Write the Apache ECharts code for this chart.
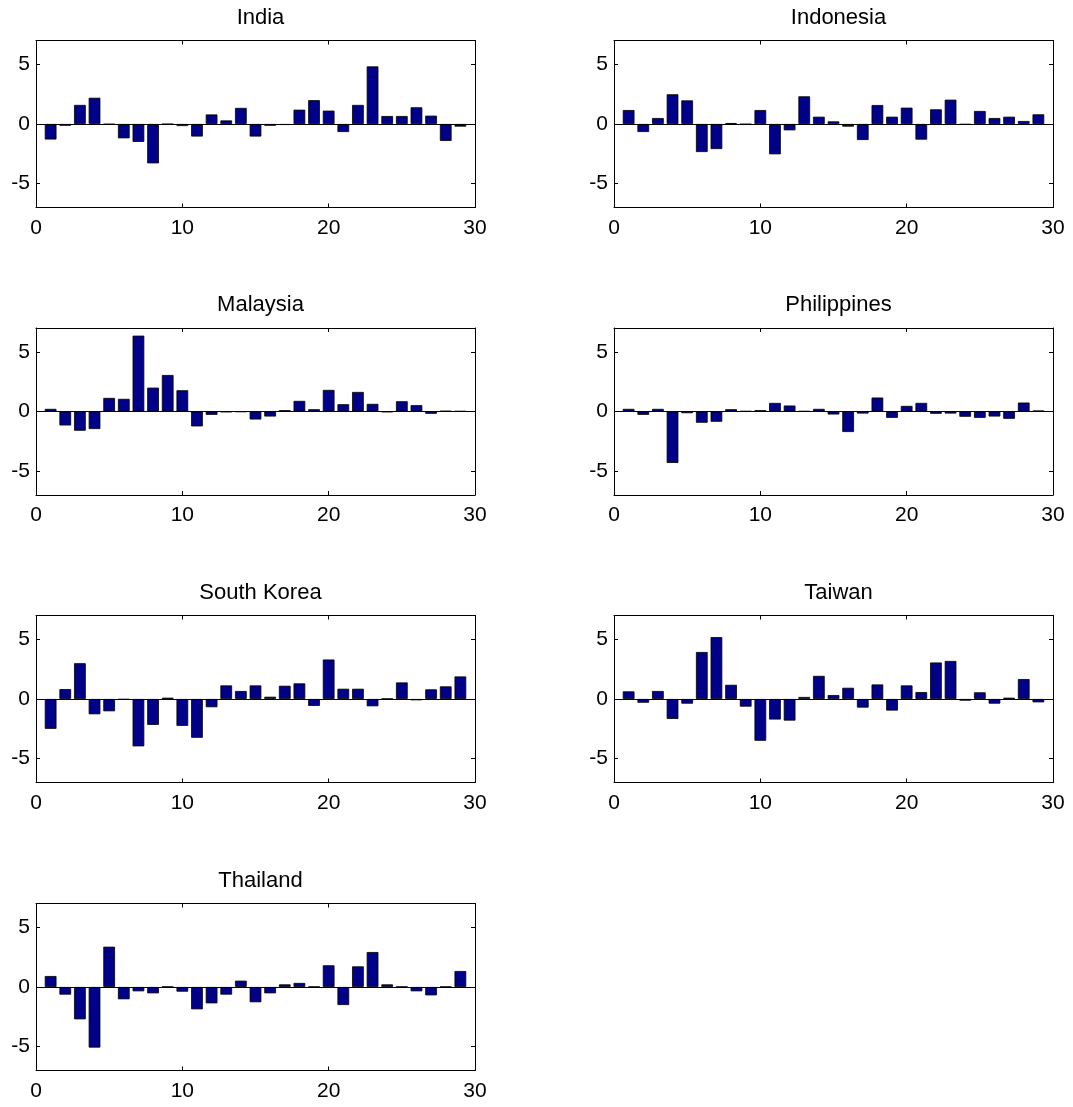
<!DOCTYPE html>
<html><head><meta charset="utf-8">
<script src="https://cdn.jsdelivr.net/npm/echarts@6/dist/echarts.min.js"></script>
<style>html,body{margin:0;padding:0;background:#fff}#c{width:1073px;height:1107px}</style>
</head><body><div id="c"></div>
<script>
const periods = [1,2,3,4,5,6,7,8,9,10,11,12,13,14,15,16,17,18,19,20,21,22,23,24,25,26,27,28,29];
const xTicks = [0,10,20,30];
const yTicks = [-5,0,5];
const countries = ['India','Indonesia','Malaysia','Philippines','South Korea','Taiwan','Thailand'];

const india       = [-1.3,-0.15,1.6,2.2,-0.03,-1.2,-1.5,-3.3,-0.02,-0.17,-1.05,0.8,0.3,1.35,-1.05,-0.15,-0.08,1.2,2.0,1.12,-0.67,1.6,4.83,0.67,0.67,1.4,0.7,-1.42,-0.22];
const indonesia   = [1.17,-0.67,0.5,2.49,1.98,-2.35,-2.1,0.08,-0.03,1.17,-2.54,-0.53,2.32,0.61,0.22,-0.22,-1.34,1.59,0.61,1.37,-1.31,1.23,2.04,-0.05,1.09,0.5,0.61,0.25,0.81];
const malaysia    = [0.22,-1.17,-1.61,-1.47,1.14,1.06,6.36,2.0,3.06,1.78,-1.25,-0.28,-0.05,-0.03,-0.67,-0.42,0.11,0.89,0.19,1.81,0.61,1.64,0.64,-0.05,0.86,0.53,-0.19,0.05,0.03];
const philippines = [0.22,-0.28,0.22,-4.31,-0.14,-0.94,-0.86,0.19,0.03,0.11,0.72,0.5,0.03,0.22,-0.25,-1.72,-0.17,1.17,-0.53,0.47,0.72,-0.19,-0.17,-0.44,-0.53,-0.42,-0.61,0.75,0.08];
const southKorea  = [-2.5,0.83,3.0,-1.28,-1.03,-0.05,-3.97,-2.17,0.11,-2.25,-3.25,-0.69,1.14,0.67,1.14,0.19,1.11,1.31,-0.58,3.31,0.86,0.86,-0.61,0.03,1.39,-0.11,0.81,1.06,1.89];
const taiwan      = [0.64,-0.31,0.67,-1.67,-0.39,3.94,5.19,1.19,-0.64,-3.5,-1.72,-1.81,0.17,1.94,0.33,0.94,-0.72,1.22,-0.97,1.14,0.58,3.06,3.19,-0.14,0.56,-0.39,0.11,1.67,-0.28];
const thailand    = [0.92,-0.64,-2.71,-5.08,3.38,-1.03,-0.36,-0.53,0.03,-0.39,-1.87,-1.37,-0.64,0.53,-1.28,-0.53,0.22,0.34,0.03,1.82,-1.51,1.73,2.93,0.22,0.03,-0.36,-0.7,0.03,1.34];
const seriesValues = [india, indonesia, malaysia, philippines, southKorea, taiwan, thailand];

const FONT = "'Liberation Sans', Arial, Helvetica, sans-serif";
const lefts = [36, 614];
const tops = [40.5, 328, 615.5, 903.5];
const W = 439, H = 167;

const grids = [], xAxes = [], yAxes = [], series = [], titles = [];
countries.forEach((name, i) => {
  const col = i % 2, row = Math.floor(i / 2);
  const gl = lefts[col], gt = tops[row];
  grids.push({left: gl, top: gt, width: W, height: H, containLabel: false});
  titles.push({text: name, left: gl + W / 2, top: gt - 39, textAlign: 'center',
    textStyle: {fontFamily: FONT, fontSize: 22, fontWeight: 'normal', color: '#000'}});
  const baseX = {type: 'value', gridIndex: i, min: xTicks[0], max: xTicks[xTicks.length - 1], interval: 10,
    splitLine: {show: false},
    axisLine: {show: true, onZero: false, lineStyle: {color: '#000', width: 1}},
    axisTick: {show: true, inside: true, length: 4, lineStyle: {color: '#000'}}};
  xAxes.push(Object.assign({}, baseX, {position: 'bottom',
    axisLabel: {show: true, margin: 10, fontFamily: FONT, fontSize: 21, color: '#000'}}));
  xAxes.push(Object.assign({}, baseX, {position: 'top', axisLabel: {show: false}}));
  const baseY = {type: 'value', gridIndex: i, min: -7, max: 7,
    splitLine: {show: false},
    axisLine: {show: true, onZero: false, lineStyle: {color: '#000', width: 1}}};
  yAxes.push(Object.assign({}, baseY, {position: 'left',
    axisTick: {show: true, inside: true, length: 4, customValues: yTicks, lineStyle: {color: '#000'}},
    axisLabel: {show: true, margin: 6, customValues: yTicks, fontFamily: FONT, fontSize: 21, color: '#000'}}));
  yAxes.push(Object.assign({}, baseY, {position: 'right',
    axisTick: {show: true, inside: true, length: 4, customValues: yTicks, lineStyle: {color: '#000'}},
    axisLabel: {show: false}}));
  series.push({
    type: 'bar', name: name, xAxisIndex: i * 2, yAxisIndex: i * 2,
    data: periods.map((p, j) => [p, seriesValues[i][j]]),
    barWidth: 11.7,
    itemStyle: {color: '#000088', borderColor: '#000', borderWidth: 0.8},
    silent: true, animation: false,
    markLine: {silent: true, symbol: 'none', label: {show: false},
      lineStyle: {color: '#000', width: 1, type: 'solid'},
      data: [{yAxis: 0}], animation: false}
  });
});

const chart = echarts.init(document.getElementById('c'), null, {renderer: 'canvas'});
chart.setOption({
  backgroundColor: '#fff', animation: false,
  title: titles, grid: grids, xAxis: xAxes, yAxis: yAxes, series: series
});
</script></body></html>
